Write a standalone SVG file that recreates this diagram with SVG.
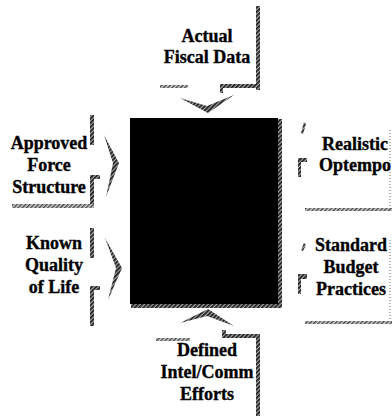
<svg xmlns="http://www.w3.org/2000/svg" width="392" height="416" viewBox="0 0 392 416">
<defs>
<pattern id="h" width="3" height="3" patternUnits="userSpaceOnUse" patternTransform="rotate(45)">
<rect width="3" height="3" fill="#a8a8a8"/><rect width="1.7" height="3" fill="#1a1a1a"/>
</pattern>
<pattern id="hl" width="3" height="3" patternUnits="userSpaceOnUse" patternTransform="rotate(45)">
<rect width="3" height="3" fill="#d0d0d0"/><rect width="1.4" height="3" fill="#444"/>
</pattern>
<style>
text{font-family:"Liberation Serif","Times New Roman",serif;font-weight:bold;font-size:18px;fill:#000;stroke:#000;stroke-width:0.35;text-anchor:middle}
.f{fill:url(#h)}
.fl{fill:url(#hl)}
.d{fill:none;stroke:#999;stroke-width:1.5;stroke-dasharray:1 2}
</style>
</defs>
<rect width="392" height="416" fill="#fff"/>

<g id="n-box">
<rect class="f" x="131" y="119" width="151" height="189"/>
<rect x="130" y="118" width="148" height="186" fill="#000"/>
</g>

<g id="n-fiscal">
<rect class="f" x="256" y="6" width="4" height="84"/>
<rect class="f" x="220" y="84" width="40" height="4"/>
<rect class="f" x="220" y="84" width="3" height="9"/>
<rect class="fl" x="160" y="85" width="28" height="3"/>
<text x="207" y="42">Actual</text>
<text x="207" y="63">Fiscal Data</text>
</g>

<g id="n-force">
<rect class="f" x="90" y="115" width="4" height="30"/>
<rect class="f" x="90" y="175" width="4" height="33"/>
<rect class="f" x="90" y="175" width="10" height="4"/>
<rect class="fl" x="12" y="204" width="82" height="4"/>
<text x="49" y="149">Approved</text>
<text x="49" y="171">Force</text>
<text x="49" y="193">Structure</text>
</g>

<g id="n-qol">
<rect class="f" x="90" y="228" width="4" height="30"/>
<rect class="f" x="90" y="286" width="4" height="40"/>
<rect class="f" x="90" y="286" width="10" height="4"/>
<text x="54" y="249">Known</text>
<text x="54" y="271">Quality</text>
<text x="54" y="293">of Life</text>
</g>

<g id="n-optempo">
<polygon class="f" points="304,122 306,124 303,134 301,133"/>
<rect class="f" x="298" y="158" width="9" height="4"/>
<rect class="f" x="298" y="158" width="3" height="19"/>
<rect class="fl" x="305" y="208" width="87" height="3"/>
<line class="d" x1="390" y1="130" x2="390" y2="207"/>
<text x="355" y="150">Realistic</text>
<text x="355" y="171">Optempo</text>
</g>

<g id="n-budget">
<polygon class="f" points="304,243 306,245 303,251 301,250"/>
<rect class="f" x="298" y="274" width="9" height="5"/>
<rect class="f" x="298" y="274" width="3" height="20"/>
<rect class="fl" x="305" y="321" width="87" height="3"/>
<line class="d" x1="390" y1="240" x2="390" y2="322"/>
<text x="351" y="251">Standard</text>
<text x="351" y="273">Budget</text>
<text x="351" y="295">Practices</text>
</g>

<g id="n-intel">
<rect class="fl" x="156" y="338" width="34" height="3"/>
<rect class="f" x="222" y="334" width="38" height="4"/>
<rect class="f" x="222" y="330" width="4" height="8"/>
<rect class="f" x="256" y="334" width="4" height="82"/>
<text x="207" y="356">Defined</text>
<text x="207" y="378">Intel/Comm</text>
<text x="207" y="400">Efforts</text>
</g>

<g id="connectors">
<polygon class="f" points="180,98 207,106 234,95 208,113"/>
<polygon class="f" points="104,135 119,163 106,197 113,163"/>
<polygon class="f" points="105,238 122,268 108,300 116,268"/>
<polygon class="f" points="180,323 207,316 234,326 208,309"/>
</g>
</svg>
